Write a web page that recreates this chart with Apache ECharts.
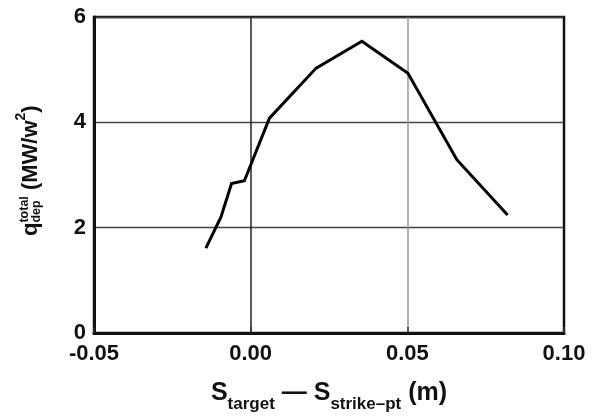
<!DOCTYPE html>
<html>
<head>
<meta charset="utf-8">
<script src="https://cdn.jsdelivr.net/npm/echarts@6/dist/echarts.min.js"></script>
<style>
html,body{margin:0;padding:0;background:#fff;}
#c{width:597px;height:416px;}
</style>
</head>
<body>
<div id="c"></div>
<script>
// ---- data ----
const sValues = [-0.0143, -0.0095, -0.0061, -0.0020, 0.0060, 0.0209, 0.0355, 0.0502, 0.0658, 0.0820];
const qValues = [1.61, 2.20, 2.84, 2.89, 4.08, 5.03, 5.54, 4.93, 3.29, 2.24];
const xTicks = [-0.05, 0.00, 0.05, 0.10];
const yTicks = [0, 2, 4, 6];
const xTickLabels = ['-0.05', '0.00', '0.05', '0.10'];
const yTickLabels = ['0', '2', '4', '6'];
// axis title pieces
const xTitleParts = [['S', 'main'], ['target', 'sub'], [' \u2014 ', 'main'], ['S', 'main'], ['strike\u2013pt', 'sub'], [' (m)', 'main']];
const yTitleQ = 'q';
const yTitleSup = 'total';
const yTitleSub = 'dep';
const yTitleUnit = ['(MW/w', '2', ')'];

const FONT = 'Liberation Sans, Arial, sans-serif';
const chart = echarts.init(document.getElementById('c'), null, {renderer: 'canvas'});

const grid = {left: 94, right: 33, top: 17, bottom: 83};

// text measuring for the composite titles
const mctx = document.createElement('canvas').getContext('2d');
function tw(t, size) { mctx.font = 'bold ' + size + 'px ' + FONT; return mctx.measureText(t).width; }

const graphics = [];
// ---- x axis title ----
(function () {
  const mainSize = 25, subSize = 17;
  const baseY = 402;
  let total = 0;
  xTitleParts.forEach(p => total += tw(p[0], p[1] === 'main' ? mainSize : subSize));
  const cx = (grid.left + (597 - grid.right)) / 2;
  let x = cx - total / 2;
  xTitleParts.forEach(p => {
    const sz = p[1] === 'main' ? mainSize : subSize;
    const base = p[1] === 'main' ? baseY : baseY + 8;
    graphics.push({type: 'text', x: x, y: base - 0.35 * sz,
      style: {text: p[0], font: 'bold ' + sz + 'px ' + FONT, fill: '#111', verticalAlign: 'middle', align: 'left'}});
    x += tw(p[0], sz);
  });
})();
// ---- y axis title (rotated) ----
(function () {
  const mainSize = 22, smallSize = 12.5;
  const x0 = 0, y0 = 236;   // group origin: local x runs upward
  const mainBase = 39, supBase = 29, subBase = 41; // page x of baselines
  const children = [];
  let lx = 0;
  children.push({type: 'text', x: lx, y: mainBase - 0.35 * mainSize,
    style: {text: yTitleQ, font: 'bold ' + mainSize + 'px ' + FONT, fill: '#111', verticalAlign: 'middle'}});
  lx += tw(yTitleQ, mainSize);
  children.push({type: 'text', x: lx, y: supBase - 0.35 * smallSize,
    style: {text: yTitleSup, font: 'bold ' + smallSize + 'px ' + FONT, fill: '#111', verticalAlign: 'middle'}});
  children.push({type: 'text', x: lx, y: subBase - 0.35 * smallSize,
    style: {text: yTitleSub, font: 'bold ' + smallSize + 'px ' + FONT, fill: '#111', verticalAlign: 'middle'}});
  lx += Math.max(tw(yTitleSup, smallSize), tw(yTitleSub, smallSize)) + tw(' ', mainSize);
  children.push({type: 'text', x: lx, y: mainBase - 0.35 * mainSize,
    style: {text: yTitleUnit[0], font: 'bold ' + mainSize + 'px ' + FONT, fill: '#111', verticalAlign: 'middle'}});
  lx += tw(yTitleUnit[0], mainSize);
  children.push({type: 'text', x: lx, y: 26 - 0.35 * 14,
    style: {text: yTitleUnit[1], font: 'bold 14px ' + FONT, fill: '#111', verticalAlign: 'middle'}});
  lx += tw(yTitleUnit[1], 14);
  children.push({type: 'text', x: lx, y: mainBase - 0.35 * mainSize,
    style: {text: yTitleUnit[2], font: 'bold ' + mainSize + 'px ' + FONT, fill: '#111', verticalAlign: 'middle'}});
  graphics.push({type: 'group', x: x0, y: y0, rotation: Math.PI / 2, children: children});
})();

const option = {
  animation: false,
  backgroundColor: '#fff',
  grid: Object.assign({show: true, borderColor: '#111', borderWidth: 2.5, backgroundColor: 'transparent'}, grid),
  xAxis: {
    type: 'value', min: xTicks[0], max: xTicks[xTicks.length - 1], interval: 0.05,
    axisLine: {show: true, onZero: false, lineStyle: {color: '#111', width: 3}},
    axisTick: {show: true, inside: true, length: 6, lineStyle: {color: '#333', width: 1.5}},
    splitLine: {show: true, lineStyle: {color: ['#111', '#222', '#999', '#111'], width: 1.5}},
    axisLabel: {margin: 10, color: '#111', fontFamily: FONT, fontWeight: 'bold', fontSize: 22,
      formatter: v => { const i = xTicks.findIndex(t => Math.abs(t - v) < 1e-9); return i >= 0 ? xTickLabels[i] : ''; }}
  },
  yAxis: {
    type: 'value', min: yTicks[0], max: yTicks[yTicks.length - 1], interval: 2,
    axisLine: {show: true, onZero: false, lineStyle: {color: '#111', width: 3}},
    axisTick: {show: false},
    splitLine: {show: true, lineStyle: {color: '#444', width: 1.3}},
    axisLabel: {margin: 8, color: '#111', fontFamily: FONT, fontWeight: 'bold', fontSize: 22,
      formatter: v => { const i = yTicks.indexOf(v); return i >= 0 ? yTickLabels[i] : ''; }}
  },
  series: [{
    type: 'line', data: sValues.map((s, i) => [s, qValues[i]]),
    showSymbol: false, symbol: 'none',
    lineStyle: {color: '#000', width: 3, join: 'miter'}
  }],
  graphic: graphics
};
chart.setOption(option);
</script>
</body>
</html>
